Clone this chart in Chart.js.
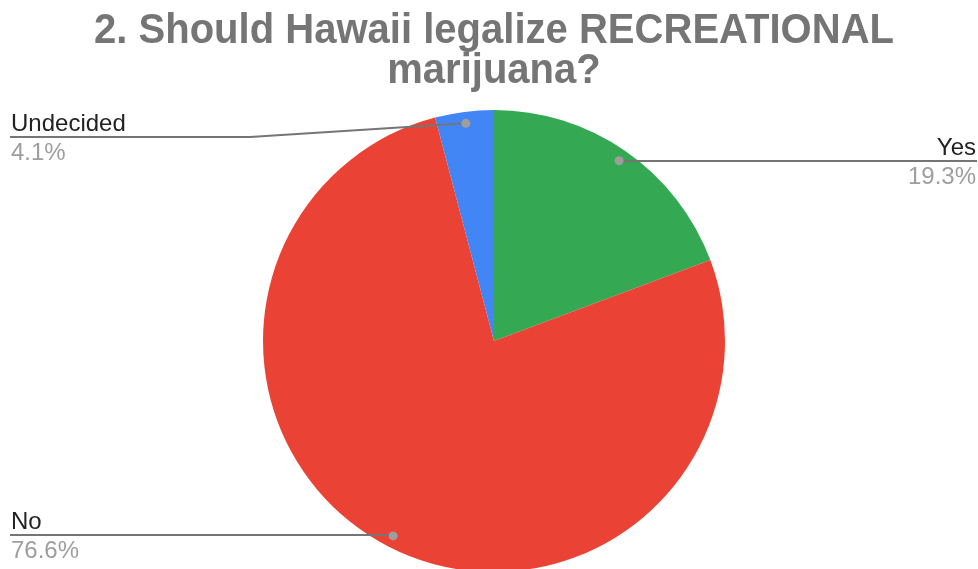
<!DOCTYPE html>
<html lang="en">
<head>
    <meta charset="UTF-8">
    <title>Should Hawaii legalize RECREATIONAL marijuana?</title>
    <style>
        body {
            margin: 0;
            padding: 0;
            background-color: #fff;
            overflow: hidden;
        }
        .chart-box {
            width: 978px;
            height: 575px;
        }
    </style>
    <script src="https://cdn.jsdelivr.net/npm/chart.js"></script>
</head>
<body>
    <div class="chart-box">
        <canvas id="pieChart"></canvas>
    </div>
    <script>
        // chart data
        const titleLines = ['2. Should Hawaii legalize RECREATIONAL', 'marijuana?'];
        const answers = ['Yes', 'No', 'Undecided'];
        const percents = [19.3, 76.6, 4.1];
        const sliceColors = ['#34A853', '#EA4335', '#4285F4'];

        // where each leader label sits (layout only)
        const labelSide = ['right', 'left', 'left'];
        const labelLineY = [161, 535, 137];
        const labelElbowX = [null, null, 250];

        // title drawn by hand so it can be squeezed like the original
        const titlePlugin = {
            id: 'squeezedTitle',
            afterDraw(chart) {
                const ctx = chart.ctx;
                ctx.save();
                ctx.fillStyle = '#757575';
                ctx.font = "bold 42px 'Liberation Sans Narrow', 'Liberation Sans', Arial, sans-serif";
                ctx.textAlign = 'center';
                ctx.textBaseline = 'alphabetic';
                const baselines = [43, 83];
                const w0 = ctx.measureText(titleLines[0]).width;
                const sx = Math.min(1, 800 / w0);
                titleLines.forEach((line, i) => {
                    ctx.save();
                    ctx.translate(494, baselines[i]);
                    ctx.scale(sx, 1);
                    ctx.fillText(line, 0, 0);
                    ctx.restore();
                });
                ctx.restore();
            }
        };

        // leader lines with name and percent
        const leaderPlugin = {
            id: 'leaderLabels',
            afterDraw(chart) {
                const ctx = chart.ctx;
                const meta = chart.getDatasetMeta(0);
                const W = chart.width;
                ctx.save();
                meta.data.forEach((arc, i) => {
                    const p = arc.getProps(['x', 'y', 'startAngle', 'endAngle', 'outerRadius'], true);
                    const mid = (p.startAngle + p.endAngle) / 2;
                    const dx = p.x + Math.cos(mid) * p.outerRadius * 0.95;
                    const dy = p.y + Math.sin(mid) * p.outerRadius * 0.95;
                    const ly = labelLineY[i];
                    const left = labelSide[i] === 'left';
                    const edgeX = left ? 10 : W - 1;
                    const elbow = labelElbowX[i] !== null ? labelElbowX[i] : dx;

                    ctx.strokeStyle = '#757575';
                    ctx.lineWidth = 2;
                    ctx.beginPath();
                    ctx.moveTo(edgeX, ly);
                    ctx.lineTo(elbow, ly);
                    ctx.lineTo(dx, dy);
                    ctx.stroke();

                    ctx.fillStyle = '#9e9e9e';
                    ctx.beginPath();
                    ctx.arc(dx, dy, 4.5, 0, Math.PI * 2);
                    ctx.fill();

                    ctx.font = "24px 'Liberation Sans', Arial, sans-serif";
                    ctx.textAlign = left ? 'left' : 'right';
                    const tx = left ? 11 : W - 2;
                    ctx.fillStyle = '#222222';
                    ctx.fillText(answers[i], tx, ly - 6);
                    ctx.fillStyle = '#9e9e9e';
                    ctx.fillText(percents[i].toFixed(1) + '%', tx, ly + 23);
                });
                ctx.restore();
            }
        };

        const pieCtx = document.getElementById('pieChart').getContext('2d');
        const pieChart = new Chart(pieCtx, {
            type: 'pie',
            data: {
                labels: answers,
                datasets: [{
                    data: percents,
                    backgroundColor: sliceColors,
                    borderWidth: 0
                }]
            },
            options: {
                responsive: true,
                maintainAspectRatio: false,
                animation: false,
                layout: {
                    padding: { top: 110, bottom: 3, left: 263, right: 253 }
                },
                plugins: {
                    legend: { display: false },
                    title: { display: false },
                    tooltip: { enabled: false }
                }
            },
            plugins: [titlePlugin, leaderPlugin]
        });
    </script>
</body>
</html>
